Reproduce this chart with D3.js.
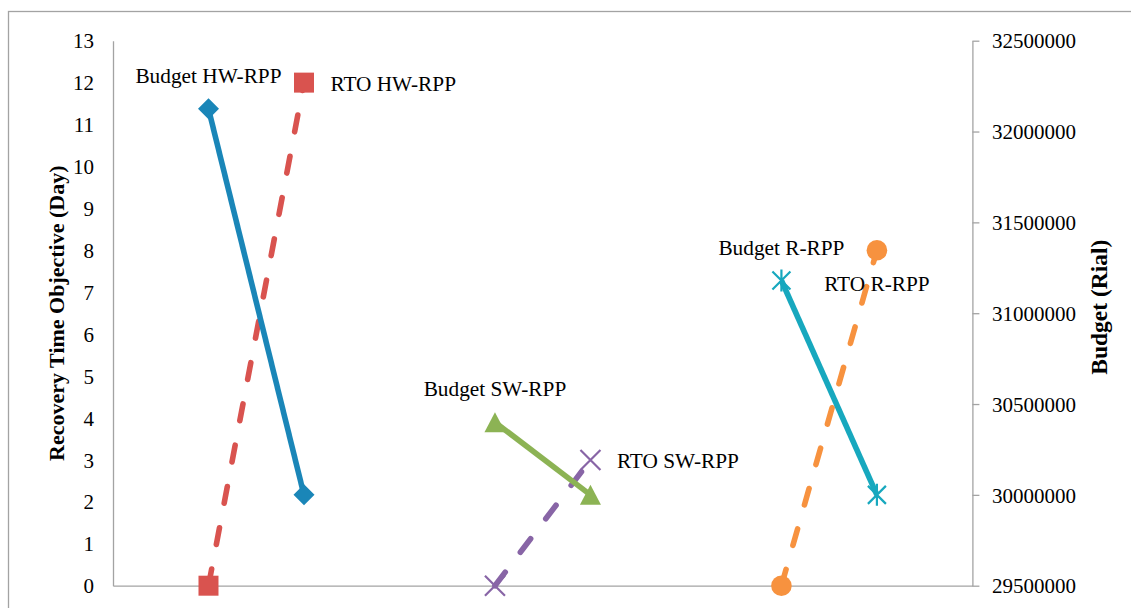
<!DOCTYPE html>
<html>
<head>
<meta charset="utf-8">
<script src="https://cdn.jsdelivr.net/npm/d3@7"></script>
<style>
  html, body { margin: 0; padding: 0; background: #fff; }
  svg { display: block; }
  text { font-family: "Liberation Serif", "Times New Roman", serif; fill: #000; }
</style>
</head>
<body>
<svg id="chart" width="1131" height="608"></svg>
<script>
// Category slots along the horizontal axis (no labels are shown)
const slotCount = 10;
const hwSlots = [1, 2];
const swSlots = [4, 5];
const rSlots = [7, 8];

// Recovery time objective (days), primary axis
const rtoHW = [0, 12];
const rtoSW = [0, 3];
const rtoR = [0, 8];

// Budget (Rial), secondary axis
const budgetHW = [32125000, 30000000];
const budgetSW = [30400000, 30000000];
const budgetR = [31180000, 30000000];

// Axis ticks
const rtoTicks = [0, 1, 2, 3, 4, 5, 6, 7, 8, 9, 10, 11, 12, 13];
const budgetTicks = [29500000, 30000000, 30500000, 31000000, 31500000, 32000000, 32500000];

// Series names
const seriesNames = ["RTO HW-RPP", "RTO SW-RPP", "RTO R-RPP", "Budget HW-RPP", "Budget SW-RPP", "Budget R-RPP"];

const svg = d3.select("#chart");

// Outer chart frame
svg.append("rect")
  .attr("x", 8.5).attr("y", 11.5)
  .attr("width", 1300).attr("height", 800)
  .attr("fill", "none").attr("stroke", "#a3a3a3").attr("stroke-width", 1.3);

const plot = { left: 113, right: 972.4, top: 40.7, bottom: 585.7 };

const x = d3.scaleLinear().domain([0, slotCount - 1]).range([plot.left, plot.right]);
const yL = d3.scaleLinear().domain([0, 13]).range([plot.bottom, plot.top]);
const yR = d3.scaleLinear().domain([29500000, 32500000]).range([plot.bottom, plot.top]);

const axisColor = "#a3a3a3";
function styleAxis(g) {
  g.selectAll("path, line").attr("stroke", axisColor).attr("stroke-width", 1.3);
  g.selectAll("text").style("font-family", '"Liberation Serif", "Times New Roman", serif')
    .style("font-size", "21px").attr("fill", "#000");
}

// Left axis
svg.append("g")
  .attr("transform", `translate(${plot.left},0)`)
  .call(d3.axisLeft(yL).tickValues(rtoTicks).tickSize(0).tickPadding(19).tickFormat(d3.format("d")))
  .call(styleAxis)
  .call(g => g.selectAll("text").attr("dy", "0.34em"));

// Right axis
svg.append("g")
  .attr("transform", `translate(${plot.right},0)`)
  .call(d3.axisRight(yR).tickValues(budgetTicks).tickSizeInner(7).tickSizeOuter(0).tickPadding(12.5).tickFormat(d3.format("d")))
  .call(styleAxis)
  .call(g => g.selectAll("text").attr("dy", "0.34em"));

// Bottom axis line
svg.append("g")
  .attr("transform", `translate(0,${plot.bottom})`)
  .call(d3.axisBottom(x).tickValues([]).tickSizeOuter(0))
  .call(styleAxis);

// Axis titles
svg.append("text")
  .attr("transform", `translate(64,${(plot.top + plot.bottom) / 2}) rotate(-90)`)
  .attr("text-anchor", "middle")
  .style("font-size", "22px").style("font-weight", "bold")
  .text("Recovery Time Objective (Day)");

svg.append("text")
  .attr("transform", `translate(1107,${(plot.top + plot.bottom) / 2 - 6}) rotate(-90)`)
  .attr("text-anchor", "middle")
  .style("font-size", "23.5px").style("font-weight", "bold")
  .text("Budget (Rial)");

// Marker shapes
const markers = {
  square: "M-10,-10H10V10H-10Z",
  diamond: "M0,-10.5L10.5,0L0,10.5L-10.5,0Z",
  triangle: "M0,-10L10.5,10L-10.5,10Z",
  cross: "M-10,-10L10,10M-10,10L10,-10",
  star: "M-9,-9L9,9M-9,9L9,-9M0,-11L0,11",
  circle: "M10.3,0A10.3,10.3,0,1,1,-10.3,0A10.3,10.3,0,1,1,10.3,0Z"
};

// Table for drawing, built from the arrays above
const table = [
  { name: seriesNames[0], slots: hwSlots, vals: rtoHW, y: yL, color: "#D9534F", dash: true, marker: "square", fillMarker: true, label: "right" },
  { name: seriesNames[1], slots: swSlots, vals: rtoSW, y: yL, color: "#8865A6", dash: true, marker: "cross", fillMarker: false, label: "right" },
  { name: seriesNames[2], slots: rSlots, vals: rtoR, y: yL, color: "#F7923F", dash: true, marker: "circle", fillMarker: true, label: "below" },
  { name: seriesNames[3], slots: hwSlots, vals: budgetHW, y: yR, color: "#1A86B8", dash: false, marker: "diamond", fillMarker: true, label: "above" },
  { name: seriesNames[4], slots: swSlots, vals: budgetSW, y: yR, color: "#8CB354", dash: false, marker: "triangle", fillMarker: true, label: "above" },
  { name: seriesNames[5], slots: rSlots, vals: budgetR, y: yR, color: "#17A8BE", dash: false, marker: "star", fillMarker: false, label: "above" }
];

const line = d3.line();

table.forEach(s => {
  const pts = s.slots.map((k, i) => [x(k), s.y(s.vals[i])]);
  const g = svg.append("g");
  g.append("path")
    .attr("d", line(pts))
    .attr("fill", "none")
    .attr("stroke", s.color)
    .attr("stroke-width", 5.6)
    .attr("stroke-linecap", s.dash ? "round" : "butt")
    .attr("stroke-dasharray", s.dash ? "17,25" : null);
  g.selectAll("path.m").data(pts).join("path")
    .attr("class", "m")
    .attr("transform", d => `translate(${d[0]},${d[1]})`)
    .attr("d", markers[s.marker])
    .attr("fill", s.fillMarker ? s.color : "none")
    .attr("stroke", s.color)
    .attr("stroke-width", s.fillMarker ? 0 : 2.2);
  s.pts = pts;
});

// Series name labels at the last point (RTO) or first point (Budget)
table.forEach(s => {
  const isRto = s.y === yL;
  const p = isRto ? s.pts[s.pts.length - 1] : s.pts[0];
  const t = svg.append("text").style("font-size", "21.3px").text(s.name);
  if (s.label === "above") {
    t.attr("x", p[0]).attr("y", p[1] - 26).attr("text-anchor", "middle");
  } else if (s.label === "right") {
    t.attr("x", p[0] + 26.5).attr("y", p[1] + 8.5).attr("text-anchor", "start");
  } else {
    t.attr("x", p[0]).attr("y", p[1] + 41).attr("text-anchor", "middle");
  }
});
</script>
</body>
</html>
